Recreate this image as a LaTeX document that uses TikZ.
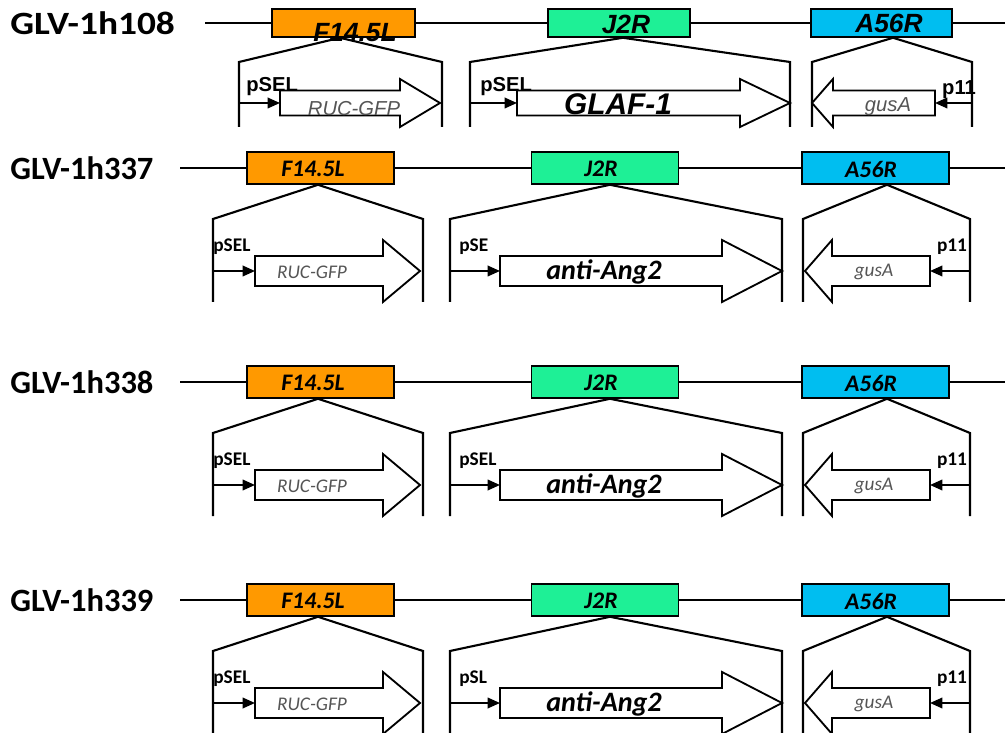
\documentclass[tikz,border=0pt]{standalone}
\usepackage{fontspec}
\newfontfamily\carlito{Carlito}
\newfontfamily\arial{Liberation Sans}
\usetikzlibrary{positioning, arrows.meta}

\definecolor{f14orange}{RGB}{255,153,0}
\definecolor{j2rgreen}{RGB}{30,240,150}
\definecolor{a56blue}{RGB}{0,190,240}
\definecolor{genegray}{RGB}{85,85,85}

\begin{document}
\begin{tikzpicture}[
    x=0.02cm, y=-0.02cm,
    backbone/.style={line width=1.4pt},
    locus/.style={draw, line width=0.9pt, minimum width=2.94cm, minimum height=0.64cm, inner sep=0pt},
    bracket/.style={line width=1.2pt, line join=miter},
    gene/.style={draw, fill=white, line width=1.05pt, line join=miter},
    prom/.style={-{Triangle[length=7pt, width=6pt]}, line width=1pt},
    strain/.style={font=\carlito\bfseries\fontsize{18.5}{21}\selectfont, anchor=west, inner sep=0pt},
    locuslbl/.style={font=\carlito\bfseries\itshape\fontsize{13.5}{15}\selectfont, inner sep=0pt},
    promlbl/.style={font=\carlito\bfseries\fontsize{11}{13}\selectfont, inner sep=0pt},
    genelbl/.style={font=\carlito\itshape\fontsize{11}{13}\selectfont, text=genegray, inner sep=0pt},
    biglbl/.style={font=\carlito\bfseries\itshape\fontsize{16}{18}\selectfont, inner sep=0pt},
    locuslblA/.style={font=\arial\bfseries\itshape\fontsize{15}{17}\selectfont, inner sep=0pt},
    promlblA/.style={font=\arial\bfseries\fontsize{11.5}{13}\selectfont, inner sep=0pt},
    genelblA/.style={font=\arial\itshape\fontsize{11.5}{13}\selectfont, text=genegray, inner sep=0pt},
    biglblA/.style={font=\arial\bfseries\itshape\fontsize{17}{19}\selectfont, inner sep=0pt},
]
\useasboundingbox (0,0) rectangle (1005,733);

% GLV-1h108 (top row)
\node[strain] (t1) at (10,23) {\scalebox{1.15}[1]{GLV-1h108}};
\node[locus, fill=f14orange, minimum width=2.86cm, minimum height=0.56cm] (f1) at (343.5,23) {};
\node[locus, fill=j2rgreen, minimum width=2.84cm, minimum height=0.56cm] (j1) at (619,23) {};
\node[locus, fill=a56blue, minimum width=2.82cm, minimum height=0.56cm] (a1) at (881.5,23) {};
\coordinate (s1) at (205,23);
\coordinate (e1) at (1005,23);
\draw[backbone] (s1) -- (f1.west) (f1.east) -- (j1.west) (j1.east) -- (a1.west) (a1.east) -- (e1);
\node[locuslblA] at (355,33) {F14.5L};
\node[locuslblA] at (626,24) {J2R};
\node[locuslblA] at (889,23) {A56R};

% inserts
\draw[bracket] (239,127) -- (239,62) -- ([xshift=-0.07cm]f1.south) -- (442,62) -- (442,127);
\draw[bracket] (470,127) -- (470,62) -- ([xshift=0.08cm]j1.south) -- (790,62) -- (790,127);
\draw[bracket] (812,127) -- (812,62) -- ([xshift=0.23cm]a1.south) -- (972,62) -- (972,127);

\draw[gene] (280,90.5) -- (400,90.5) -- (400,79) -- (440,103) -- (400,127) -- (400,115.5) -- (280,115.5) -- cycle;
\draw[gene] (517,90.5) -- (740,90.5) -- (740,79) -- (790,103) -- (740,127) -- (740,115.5) -- (517,115.5) -- cycle;
\draw[gene] (935,90.5) -- (833,90.5) -- (833,79) -- (812,103) -- (833,127) -- (833,115.5) -- (935,115.5) -- cycle;
\node[genelblA] at (354,109) {RUC-GFP};
\node[biglblA] at (618,104) {GLAF-1};
\node[genelblA] at (888,107) {gusA};

% promoters
\coordinate (pf1) at (239,103); \coordinate (ruc1) at (280,103);
\coordinate (pj1) at (470,103); \coordinate (glaf1) at (517,103);
\coordinate (pa1) at (972,103); \coordinate (gus1) at (935,103);
\draw[prom] (pf1) -- (ruc1);
\draw[prom] (pj1) -- (glaf1);
\draw[prom] (pa1) -- (gus1);
\node[promlblA, anchor=west] at (246,87) {pSEL};
\node[promlblA, anchor=west] at (480,87) {pSEL};
\node[promlblA] at (959,90) {p11};

% GLV-1h337, 1h338, 1h339
\foreach \y/\g/\p/\i in {168/GLV-1h337/pSE/2, 382/GLV-1h338/pSEL/3, 600/GLV-1h339/pSL/4} {
    \node[strain] (t\i) at (10,\y) {\g};
    \node[locus, fill=f14orange] (f\i) at (320.5,\y) {};
    \node[locus, fill=j2rgreen] (j\i) at (605,\y) {};
    \node[locus, fill=a56blue] (a\i) at (875.5,\y) {};
    \coordinate (s\i) at (180,\y);
    \coordinate (e\i) at (1005,\y);
    \draw[backbone] (s\i) -- (f\i.west) (f\i.east) -- (j\i.west) (j\i.east) -- (a\i.west) (a\i.east) -- (e\i);
    \node[locuslbl] at (313,\y+1) {F14.5L};
    \node[locuslbl] at (601,\y+1) {J2R};
    \node[locuslbl] at (871,\y+1) {A56R};

    \draw[bracket] (213,\y+134) -- (213,\y+51) -- ([xshift=-0.05cm]f\i.south) -- (423,\y+51) -- (423,\y+134);
    \draw[bracket] (450,\y+134) -- (450,\y+51) -- ([xshift=0.1cm]j\i.south) -- (782,\y+51) -- (782,\y+134);
    \draw[bracket] (803,\y+134) -- (803,\y+51) -- ([xshift=0.23cm]a\i.south) -- (970,\y+51) -- (970,\y+134);

    \draw[gene] (255,\y+88) -- (383,\y+88) -- (383,\y+72) -- (420,\y+103) -- (383,\y+134) -- (383,\y+118) -- (255,\y+118) -- cycle;
    \draw[gene] (500,\y+88) -- (722,\y+88) -- (722,\y+72) -- (782,\y+103) -- (722,\y+134) -- (722,\y+118) -- (500,\y+118) -- cycle;
    \draw[gene] (930,\y+88) -- (832,\y+88) -- (832,\y+72) -- (805,\y+103) -- (832,\y+134) -- (832,\y+118) -- (930,\y+118) -- cycle;
    \node[genelbl] at (312,\y+104) {RUC-GFP};
    \node[biglbl] at (604,\y+104) {anti-Ang2};
    \node[genelbl] at (874,\y+104) {gusA};

    \coordinate (pf\i) at (213,\y+103); \coordinate (ruc\i) at (255,\y+103);
    \coordinate (pj\i) at (450,\y+103); \coordinate (ang\i) at (500,\y+103);
    \coordinate (pa\i) at (970,\y+103); \coordinate (gus\i) at (930,\y+103);
    \draw[prom] (pf\i) -- (ruc\i);
    \draw[prom] (pj\i) -- (ang\i);
    \draw[prom] (pa\i) -- (gus\i);
    \node[promlbl, anchor=west] at (213,\y+79) {pSEL};
    \node[promlbl, anchor=west] at (459,\y+79) {\p};
    \node[promlbl] at (952,\y+79) {p11};
}

\end{tikzpicture}
\end{document}
